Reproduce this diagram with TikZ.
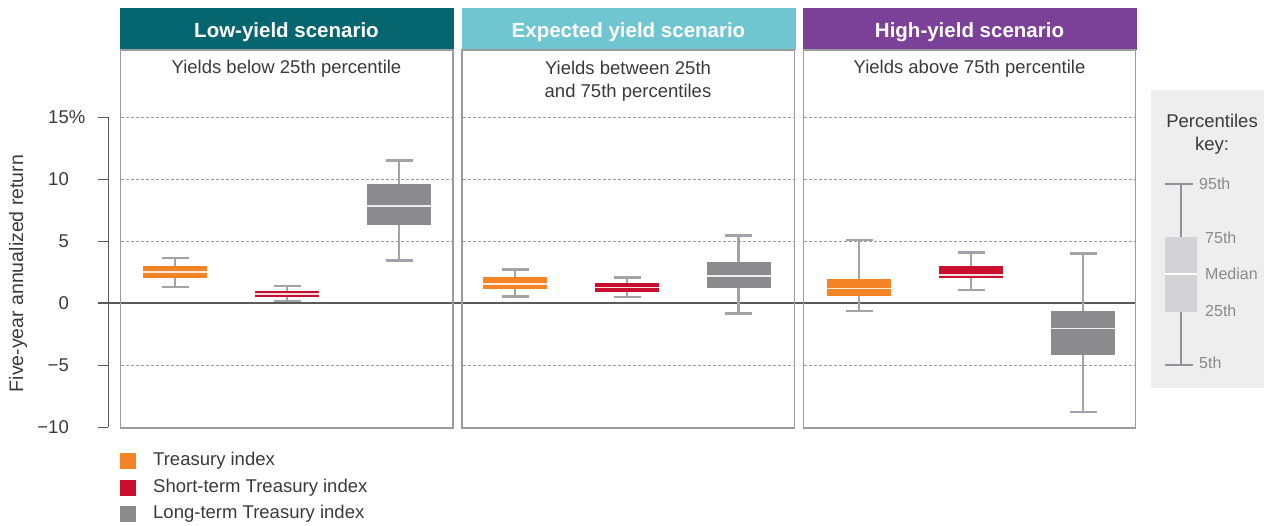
\documentclass[tikz,border=0pt]{standalone}
\usepackage{fontspec}
\setmainfont{Liberation Sans}

\definecolor{lowteal}{HTML}{05666F}
\definecolor{midcyan}{HTML}{70C6D0}
\definecolor{highpurple}{HTML}{7B4097}
\definecolor{tsyorange}{HTML}{F58426}
\definecolor{shortred}{HTML}{C8102E}
\definecolor{longgray}{HTML}{8B8B8D}
\definecolor{whiskgray}{HTML}{A2A2A7}
\definecolor{panelgray}{HTML}{9C9C9C}
\definecolor{axisgray}{HTML}{5A5A5A}
\definecolor{keybg}{HTML}{EEEEEF}
\definecolor{keybox}{HTML}{D3D3D5}
\definecolor{keytext}{HTML}{8A8A8A}
\definecolor{txt}{HTML}{3A3A3A}

\tikzset{
  hdr/.style={fill=#1, text=white, font=\fontsize{20.5}{24}\selectfont\bfseries,
    minimum width=334pt, minimum height=42pt, inner sep=0pt,
    text height=17pt, text depth=0pt},
  panel/.style={draw=panelgray, line width=1.5pt},
  gridln/.style={draw=panelgray, line width=0.8pt, dash pattern=on 2.5pt off 2.5pt},
  subt/.style={text=txt, font=\fontsize{18.5}{23}\selectfont, align=center},
  ticklab/.style={anchor=east, text=txt, font=\fontsize{18.5}{22}\selectfont, inner sep=0pt},
  whisk/.style={draw=whiskgray, line width=2.4pt},
  whiskcap/.style={draw=whiskgray, line width=2.6pt},
  medline/.style={draw=white, line width=1.6pt, opacity=0.85},
  keylab/.style={anchor=west, text=keytext, font=\fontsize{16}{19}\selectfont, inner sep=0pt},
  legsq/.style={minimum size=16pt, inner sep=0pt},
  leglab/.style={anchor=west, text=txt, font=\fontsize{18.5}{22}\selectfont, inner sep=0pt}
}

% one box: x centre, colour, 5th, 25th, median, 75th, 95th
\newcommand{\bxplot}[7]{%
  \draw[whisk] (#1,#3) -- (#1,#7);
  \draw[whiskcap] (#1-13.5,#3) -- (#1+13.5,#3);
  \draw[whiskcap] (#1-13.5,#7) -- (#1+13.5,#7);
  \fill[#2] (#1-32,#4) rectangle (#1+32,#6);
  \draw[medline] (#1-32,#5) -- (#1+32,#5);
}

\begin{document}
\begin{tikzpicture}[x=1pt, y=-1pt]
  \useasboundingbox (0,0) rectangle (1264,525);

  % scenario headers
  \node[hdr=lowteal] (hlow) at (286.5,29) {Low-yield scenario};
  \node[hdr=midcyan] (hmid) at (628.5,29) {Expected yield scenario};
  \node[hdr=highpurple] (hhigh) at (969.5,29) {High-yield scenario};

  \node[subt] (slow) at (286.5,69) {Yields below 25th percentile};
  \node[subt] (smid) at (628,81) {Yields between 25th\\and 75th percentiles};
  \node[subt] (shigh) at (969.5,69) {Yields above 75th percentile};

  % data part: y in percent
  \begin{scope}[shift={(0,303)}, y=12.4pt]
    \foreach \v in {15,10,5,-5} {
      \draw[gridln] (121,\v) -- (452,\v);
      \draw[gridln] (463,\v) -- (794,\v);
      \draw[gridln] (804,\v) -- (1135,\v);
    }
    \draw[axisgray, line width=1pt] (108,15) -- (108,-10);
    \foreach \v/\t in {15/15\rlap{\%},10/10,5/5,0/0,-5/−5,-10/−10} {
      \draw[axisgray, line width=1pt] (98,\v) -- (108,\v);
      \node[ticklab] at (69,\v) {\t};
    }
    \draw[axisgray, line width=2pt] (98,0) -- (1136,0);

    \bxplot{175}{tsyorange}{1.3}{2.0}{2.5}{3.0}{3.63}
    \bxplot{287}{shortred}{0.16}{0.51}{0.73}{0.97}{1.37}
    \bxplot{399}{longgray}{3.44}{6.3}{7.8}{9.6}{11.5}

    \bxplot{515}{tsyorange}{0.54}{1.13}{1.53}{2.1}{2.69}
    \bxplot{627}{shortred}{0.48}{0.89}{1.26}{1.61}{2.04}
    \bxplot{738.5}{longgray}{-0.83}{1.24}{2.2}{3.31}{5.43}

    \bxplot{859}{tsyorange}{-0.65}{0.59}{1.16}{1.94}{5.08}
    \bxplot{971}{shortred}{1.05}{2.04}{2.28}{2.98}{4.09}
    \bxplot{1083}{longgray}{-8.8}{-4.19}{-2.07}{-0.65}{4.0}
  \end{scope}

  % panel frames
  \draw[panel] (120.5,50) rectangle (453,428);
  \draw[panel] (462,50) rectangle (794.5,428);
  \draw[panel] (803.5,50) rectangle (1135.5,428);

  \node[rotate=90, text=txt, font=\fontsize{19.5}{23}\selectfont] (ylab) at (18,273.5)
    {Five-year annualized return};

  % percentiles key
  \fill[keybg] (1151,90) rectangle (1264,388);
  \node[subt] (keyttl) at (1212,134) {Percentiles\\key:};
  \draw[draw=whiskgray!90!black, line width=2pt] (1181,184) -- (1181,365);
  \draw[draw=whiskgray!90!black, line width=2.4pt] (1165,184) -- (1193,184);
  \draw[draw=whiskgray!90!black, line width=2.4pt] (1165,365) -- (1193,365);
  \fill[keybox] (1165,237) rectangle (1197,312);
  \draw[draw=white, line width=1.8pt] (1165,274) -- (1197,274);
  \node[keylab] (k95) at (1199,184) {95th};
  \node[keylab] (k75) at (1205,238) {75th};
  \node[keylab] (kmed) at (1205,274) {Median};
  \node[keylab] (k25) at (1205,311) {25th};
  \node[keylab] (k5) at (1199,363) {5th};

  % legend
  \foreach \c/\t [count=\i] in {tsyorange/Treasury index,
      shortred/Short-term Treasury index, longgray/Long-term Treasury index} {
    \node[legsq, fill=\c] (sq\i) at (128,434.5+26.5*\i) {};
    \node[leglab] (lg\i) at (153,434.5+26.5*\i) {\t};
  }
\end{tikzpicture}
\end{document}
